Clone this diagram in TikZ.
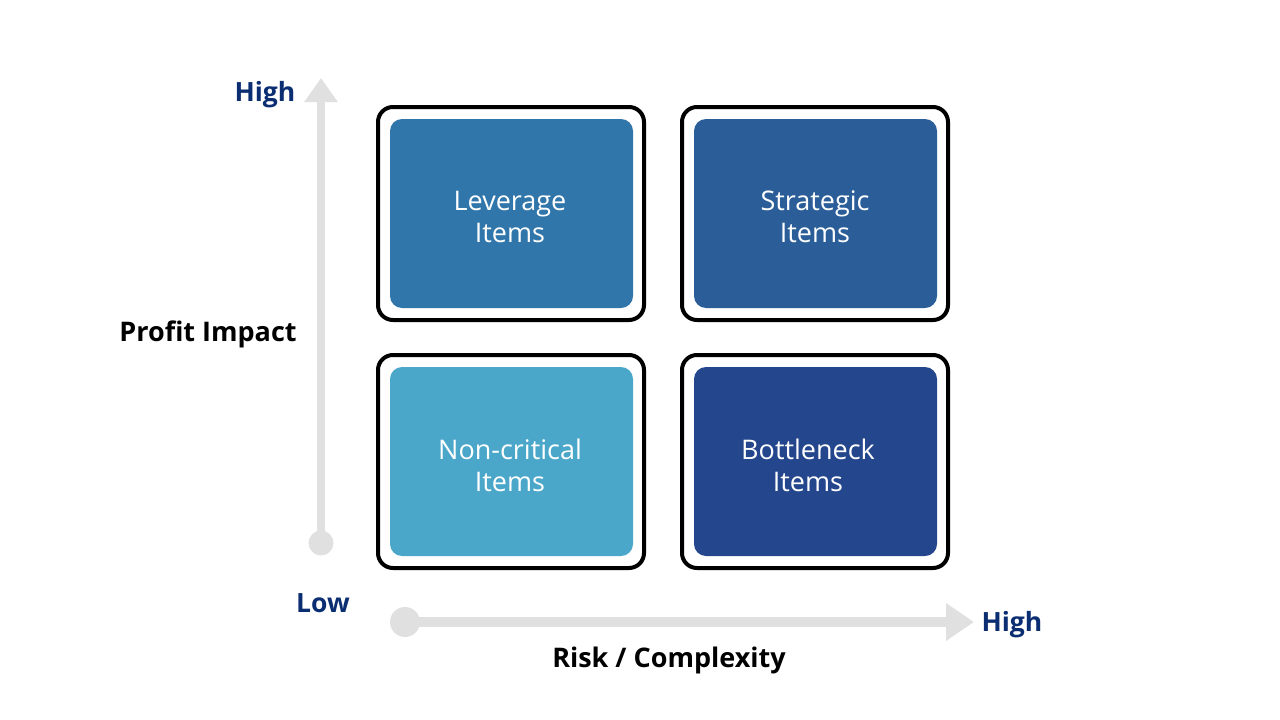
\documentclass[tikz,border=0pt]{standalone}
\usepackage{fontspec}
\setmainfont{Open Sans}
\usetikzlibrary{arrows.meta}
\definecolor{axisgray}{HTML}{E0E0E0}
\definecolor{lblblue}{HTML}{0B2D72}
\definecolor{cLev}{HTML}{3076AB}
\definecolor{cStr}{HTML}{2B5E99}
\definecolor{cNon}{HTML}{4AA7C9}
\definecolor{cBot}{HTML}{24468C}
\tikzset{
  outerbox/.style={draw=black, line width=4pt, rounded corners=15pt, fill=white},
  innerbox/.style={rounded corners=12pt},
  boxtext/.style={text=white, font=\fontsize{27}{32}\selectfont, align=center},
  axislbl/.style={text=lblblue, font=\bfseries\fontsize{26.5}{30}\selectfont},
  axistitle/.style={text=black, font=\bfseries\fontsize{27}{30}\selectfont},
  dot/.style={circle, fill=axisgray, inner sep=0pt, minimum size=#1},
}
\begin{document}
\begin{tikzpicture}[x=1pt,y=-1pt]
\useasboundingbox (0,0) rectangle (1280,720);
% quadrants
\draw[outerbox] (378,107) rectangle (644,320);
\fill[cLev, innerbox] (390,119) rectangle (633,308);
\draw[outerbox] (682,107) rectangle (948,320);
\fill[cStr, innerbox] (694,119) rectangle (937,308);
\draw[outerbox] (378,355) rectangle (644,568);
\fill[cNon, innerbox] (390,367) rectangle (633,556);
\draw[outerbox] (682,355) rectangle (948,568);
\fill[cBot, innerbox] (694,367) rectangle (937,556);
\node[boxtext] (lev) at (510,217) {Leverage\\Items};
\node[boxtext] (str) at (815,217) {Strategic\\Items};
\node[boxtext] (non) at (510,465) {Non-critical\\Items};
\node[boxtext] (bot) at (808,465) {Bottleneck\\Items};
% axes
\node[dot=25pt] (vstart) at (321,543) {};
\coordinate (vtip) at (321,78);
\draw[axisgray, line width=8pt, -{Triangle[length=24pt,width=32pt]}] (vstart.center) -- (vtip);
\node[dot=30pt] (hstart) at (405,622) {};
\coordinate (htip) at (974,622);
\draw[axisgray, line width=10pt, -{Triangle[length=28pt,width=36pt]}] (hstart.center) -- (htip);
% labels
\node[axislbl] (yhigh) at (265,95) {High};
\node[axistitle] (ytitle) at (208,334) {Profit Impact};
\node[axislbl] (low) at (323,603) {Low};
\node[axislbl] (xhigh) at (1012,625) {High};
\node[axistitle] (xtitle) at (669,660) {Risk / Complexity};
\end{tikzpicture}
\end{document}
